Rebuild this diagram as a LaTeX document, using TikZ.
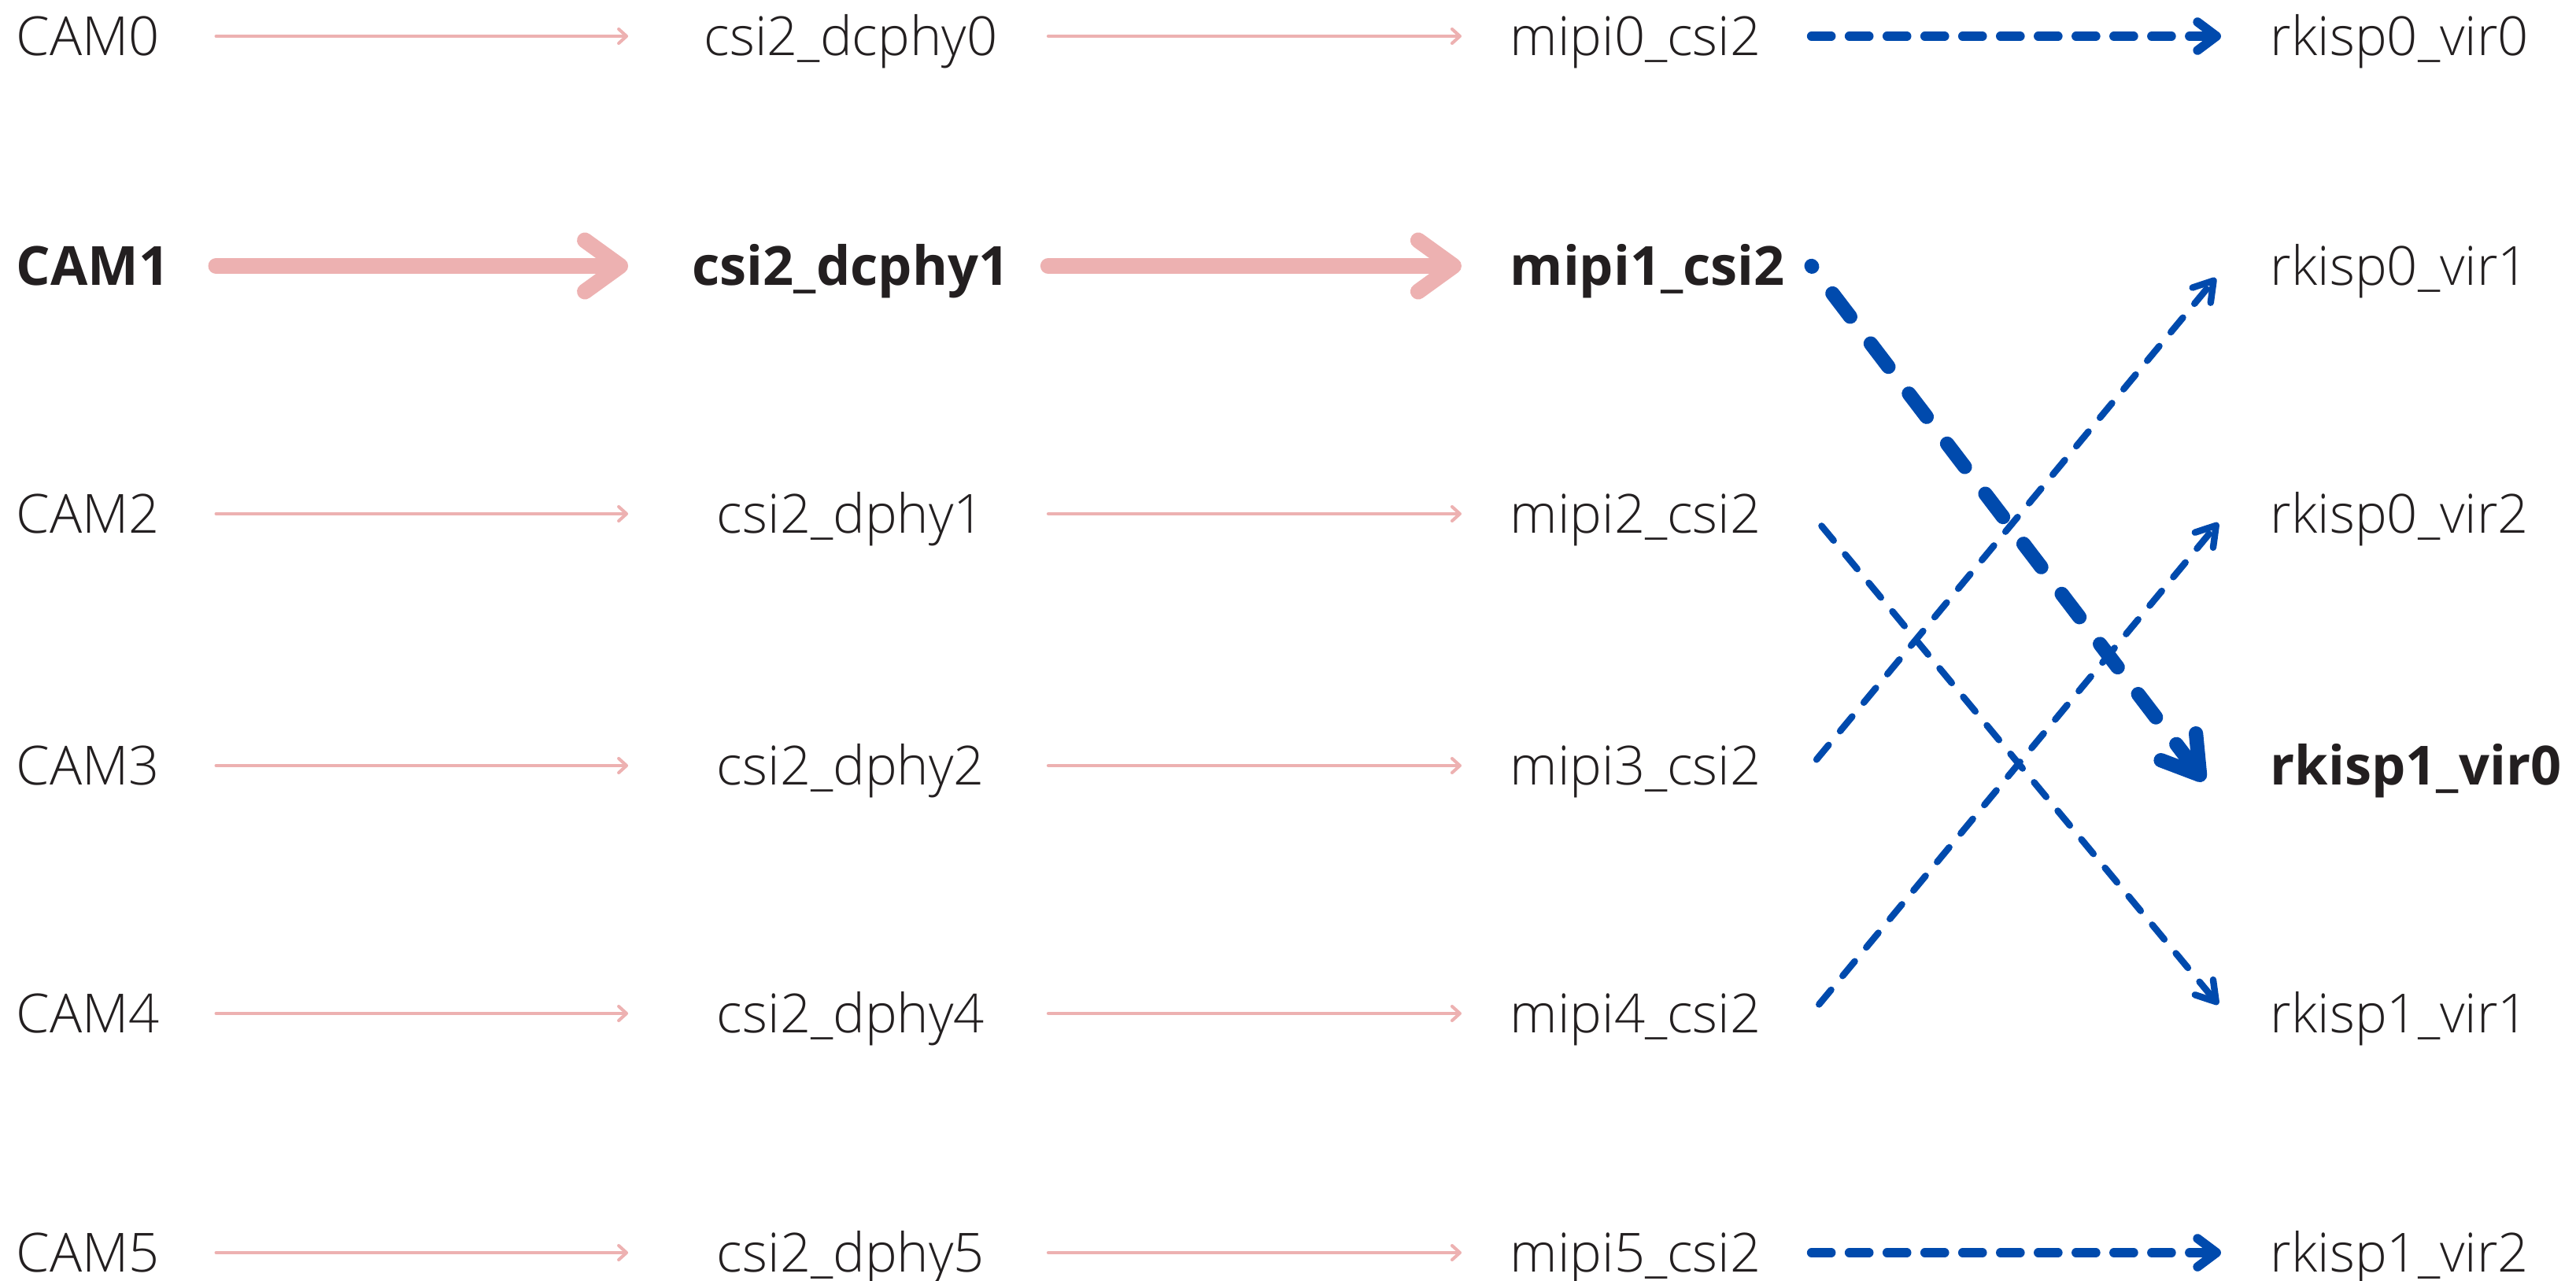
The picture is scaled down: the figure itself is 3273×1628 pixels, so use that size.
\documentclass[tikz,border=0pt]{standalone}
\usepackage{fontspec}
\setmainfont{Open Sans}[UprightFont=* Light, BoldFont=* Bold]
\usepackage{xcolor}
\usepackage{tikz}
\usetikzlibrary{arrows.meta}

\definecolor{linkpink}{HTML}{EDB1B1}
\definecolor{linkblue}{HTML}{004AAD}
\definecolor{labelink}{HTML}{231F20}

\tikzset{
  lbl/.style={inner sep=0pt, text height=0.49cm, text depth=0pt, text=labelink},
  cam/.style={lbl, anchor=west, text width=2.53cm, align=left},
  phy/.style={lbl, anchor=center, minimum width=5.32cm},
  mipi/.style={lbl, anchor=west, text width=3.82cm, align=left},
  isp/.style={lbl, anchor=west},
  pinkthin/.style={draw=linkpink, line width=1.15pt, line cap=round,
    -{Straight Barb[round, length=0.1cm, width=0.18cm]}},
  pinkthick/.style={draw=linkpink, line width=5.7pt, line cap=round,
    -{Straight Barb[round, length=0.45cm, width=0.65cm]}},
  % the phy box sits a bit right of the gap between the pink arrows
  tophy/.style={shorten >=0.16cm},
  tomipi/.style={shorten <=-0.16cm, shorten >=0.61cm},
  bluehz/.style={draw=linkblue, line width=3.3pt, line cap=round,
    dash pattern=on 0.25cm off 0.23cm, shorten >=0.06cm,
    -{Straight Barb[round, length=0.24cm, width=0.36cm]}},
  bluediag/.style={draw=linkblue, line width=2.4pt, line cap=round,
    dash pattern=on 0.24cm off 0.23cm, shorten <=0.15cm, shorten >=0.15cm,
    -{Straight Barb[round, length=0.24cm, width=0.3cm]}},
  bluethick/.style={draw=linkblue, line width=5.2pt, line cap=round,
    dash pattern=on 0.37cm off 0.43cm, dash phase=0.36cm, shorten >=0.45cm,
    -{Straight Barb[round, length=0.45cm, width=0.56cm]}},
}

\begin{document}
\begin{tikzpicture}[x=0.01cm, y=-0.01cm, font=\fontsize{19.5pt}{24pt}\selectfont]
  \useasboundingbox (0,0) rectangle (3273,1628);

  % sensors, phys and csi hosts
  \foreach \i/\y/\p in {0/46/csi2\_dcphy0, 2/653/csi2\_dphy1, 3/973/csi2\_dphy2,
                        4/1288/csi2\_dphy4, 5/1592/csi2\_dphy5} {
    \node[cam] (cam\i) at (20,\y) {CAM\i};
    \node[phy] (phy\i) at (1081,\y) {\p};
    \node[mipi] (mipi\i) at (1918,\y) {mipi\i\_csi2};
    \draw[pinkthin, tophy] (cam\i.east) -- (phy\i.west);
    \draw[pinkthin, tomipi] (phy\i.east) -- (mipi\i.west);
  }
  \node[cam] (cam1) at (20,338) {\bfseries CAM1};
  \node[phy] (phy1) at (1081,338) {\bfseries csi2\_dcphy1};
  \node[mipi] (mipi1) at (1918,338) {\bfseries mipi1\_csi2};
  \draw[pinkthick, tophy] (cam1.east) -- (phy1.west);
  \draw[pinkthick, tomipi] (phy1.east) -- (mipi1.west);

  % isp virtual inputs
  \node[isp] (rk00) at (2884,46) {rkisp0\_vir0};
  \node[isp] (rk01) at (2884,338) {rkisp0\_vir1};
  \node[isp] (rk02) at (2884,653) {rkisp0\_vir2};
  \node[isp] (rk10) at (2884,973) {\bfseries rkisp1\_vir0};
  \node[isp] (rk11) at (2884,1288) {rkisp1\_vir1};
  \node[isp] (rk12) at (2884,1592) {rkisp1\_vir2};

  \draw[bluehz] (mipi0.east) -- ([xshift=-0.56cm]rk00.west);
  \draw[bluehz] (mipi5.east) -- ([xshift=-0.56cm]rk12.west);
  \draw[bluediag, shorten <=0.2cm] (mipi2.east) -- ([xshift=-0.56cm]rk11.west);
  \draw[bluediag, shorten <=0.1cm, shorten >=0.2cm] (mipi3.east) -- ([xshift=-0.56cm]rk01.west);
  \draw[bluediag] (mipi4.east) -- ([xshift=-0.56cm]rk02.west);
  \draw[bluethick] (mipi1.east) -- ([xshift=-0.56cm, yshift=-0.55cm]rk10.west);
\end{tikzpicture}
\end{document}
